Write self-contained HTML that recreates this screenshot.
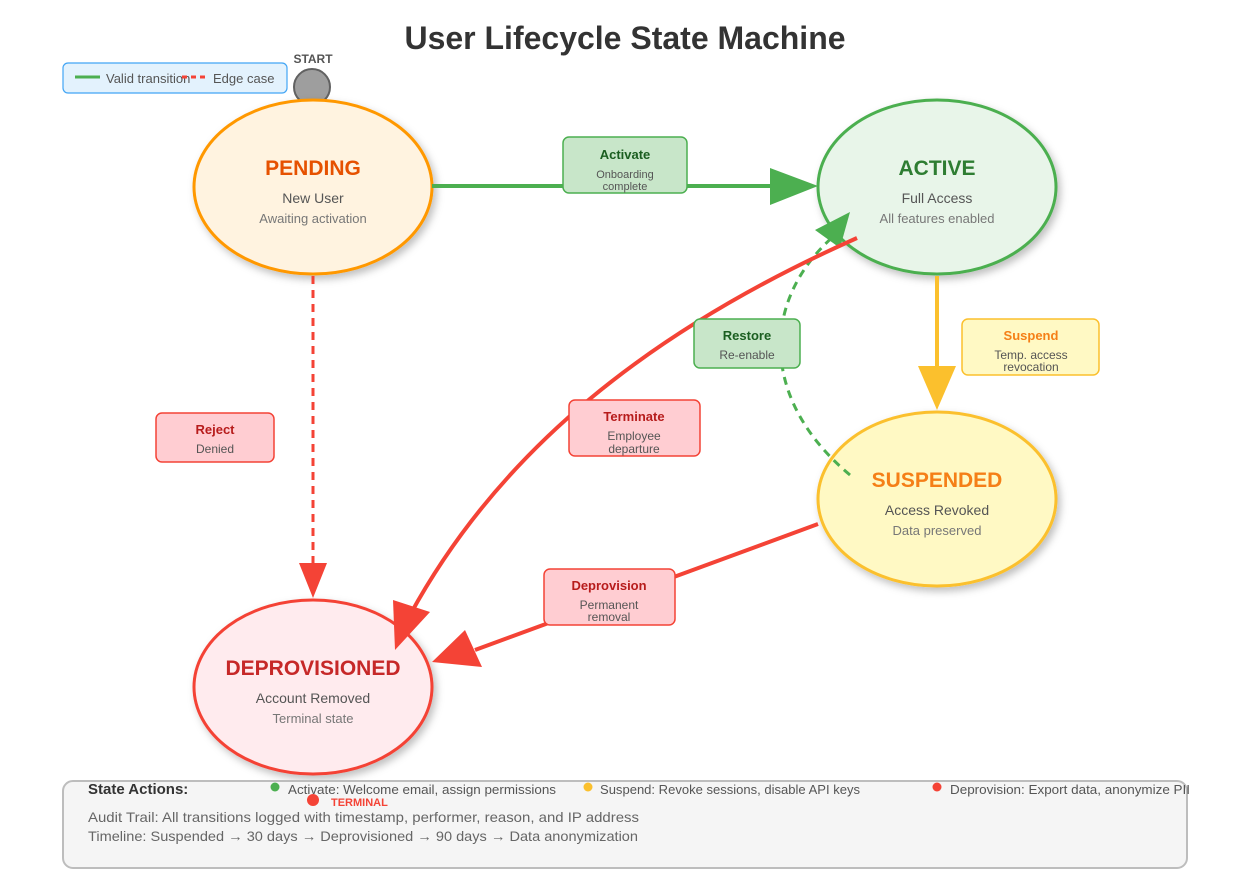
<!DOCTYPE html>
<html><head><meta charset="utf-8"><style>
body{margin:0;background:#fff;}
svg{display:block;font-family:"Liberation Sans",sans-serif;}
</style></head><body>
<svg width="1250" height="875" viewBox="0 0 1250 875" xmlns="http://www.w3.org/2000/svg">
<defs>
<filter id="sh" x="-20%" y="-20%" width="150%" height="150%"><feDropShadow dx="3" dy="4" stdDeviation="4" flood-color="#000" flood-opacity="0.25"/></filter>
</defs>
<text x="625" y="49" text-anchor="middle" font-size="32" font-weight="bold" fill="#333">User Lifecycle State Machine</text>
<!-- legend -->
<rect x="63" y="63" width="224" height="30" rx="5" fill="#e3f2fd" stroke="#42a5f5" stroke-width="1.2"/>
<line x1="75" y1="77" x2="100" y2="77" stroke="#4caf50" stroke-width="3"/>
<text x="106" y="83" font-size="13" fill="#555">Valid transition</text>
<line x1="182" y1="77" x2="207" y2="77" stroke="#f44336" stroke-width="3" stroke-dasharray="5,4"/>
<text x="213" y="83" font-size="13" fill="#555">Edge case</text>
<!-- start -->
<text x="313" y="63" text-anchor="middle" font-size="12" font-weight="bold" fill="#555">START</text>
<circle cx="312" cy="87" r="18" fill="#9e9e9e" stroke="#616161" stroke-width="2"/>
<polygon points="305,108 319,108 313,131" fill="#555"/>
<!-- ellipses -->
<ellipse cx="313" cy="187" rx="119" ry="87" fill="#fff3e0" stroke="#ff9800" stroke-width="3" filter="url(#sh)"/>
<ellipse cx="937" cy="187" rx="119" ry="87" fill="#e8f5e9" stroke="#4caf50" stroke-width="3" filter="url(#sh)"/>
<ellipse cx="937" cy="499" rx="119" ry="87" fill="#fff9c4" stroke="#fbc02d" stroke-width="3" filter="url(#sh)"/>
<ellipse cx="313" cy="687" rx="119" ry="87" fill="#ffebee" stroke="#f44336" stroke-width="3" filter="url(#sh)"/>
<!-- edges -->
<line x1="432" y1="186" x2="775" y2="186" stroke="#4caf50" stroke-width="4"/>
<polygon points="770,168 818,186 770,205" fill="#4caf50"/>
<line x1="313" y1="276" x2="313" y2="565" stroke="#f44336" stroke-width="3" stroke-dasharray="8,6"/>
<polygon points="299,563 327,563 313,598" fill="#f44336"/>
<line x1="937" y1="276" x2="937" y2="370" stroke="#fbc02d" stroke-width="4"/>
<polygon points="918,366 956,366 937,410" fill="#fbc02d"/>
<path d="M 850 475 C 760 400, 760 300, 835 235" fill="none" stroke="#4caf50" stroke-width="3" stroke-dasharray="8,6"/>
<polygon points="815,230 850,212 840,248" fill="#4caf50"/>
<path d="M 857 238 C 650 330, 500 450, 410 615" fill="none" stroke="#f44336" stroke-width="4"/>
<polygon points="393,600 430,612 395,650" fill="#f44336"/>
<line x1="818" y1="524" x2="475" y2="650" stroke="#f44336" stroke-width="4"/>
<polygon points="465,630 482,667 432,662" fill="#f44336"/>
<!-- state labels -->
<g text-anchor="middle">
<text x="313" y="175" font-size="21" font-weight="bold" fill="#e65100">PENDING</text>
<text x="313" y="203" font-size="14" fill="#555">New User</text>
<text x="313" y="223" font-size="13" fill="#777">Awaiting activation</text>
<text x="937" y="175" font-size="21" font-weight="bold" fill="#2e7d32">ACTIVE</text>
<text x="937" y="203" font-size="14" fill="#555">Full Access</text>
<text x="937" y="223" font-size="13" fill="#777">All features enabled</text>
<text x="937" y="487" font-size="21" font-weight="bold" fill="#f57f17">SUSPENDED</text>
<text x="937" y="515" font-size="14" fill="#555">Access Revoked</text>
<text x="937" y="535" font-size="13" fill="#777">Data preserved</text>
<text x="313" y="675" font-size="21" font-weight="bold" fill="#c62828">DEPROVISIONED</text>
<text x="313" y="703" font-size="14" fill="#555">Account Removed</text>
<text x="313" y="723" font-size="13" fill="#777">Terminal state</text>
</g>
<!-- edge labels -->
<g text-anchor="middle">
<rect x="563" y="137" width="124" height="56" rx="6" fill="#c8e6c9" stroke="#4caf50" stroke-width="1.5"/>
<text x="625" y="159" font-size="13" font-weight="bold" fill="#1b5e20">Activate</text>
<text x="625" y="178" font-size="11" fill="#555">Onboarding</text>
<text x="625" y="190" font-size="11" fill="#555">complete</text>
<rect x="156" y="413" width="118" height="49" rx="6" fill="#ffcdd2" stroke="#f44336" stroke-width="1.5"/>
<text x="215" y="434" font-size="13" font-weight="bold" fill="#b71c1c">Reject</text>
<text x="215" y="453" font-size="12" fill="#555">Denied</text>
<rect x="694" y="319" width="106" height="49" rx="6" fill="#c8e6c9" stroke="#4caf50" stroke-width="1.5"/>
<text x="747" y="340" font-size="13" font-weight="bold" fill="#1b5e20">Restore</text>
<text x="747" y="359" font-size="12" fill="#555">Re-enable</text>
<rect x="962" y="319" width="137" height="56" rx="6" fill="#fff9c4" stroke="#fbc02d" stroke-width="1.5"/>
<text x="1031" y="340" font-size="13" font-weight="bold" fill="#f57f17">Suspend</text>
<text x="1031" y="359" font-size="12" fill="#555">Temp. access</text>
<text x="1031" y="371" font-size="12" fill="#555">revocation</text>
<rect x="569" y="400" width="131" height="56" rx="6" fill="#ffcdd2" stroke="#f44336" stroke-width="1.5"/>
<text x="634" y="421" font-size="13" font-weight="bold" fill="#b71c1c">Terminate</text>
<text x="634" y="440" font-size="12" fill="#555">Employee</text>
<text x="634" y="453" font-size="12" fill="#555">departure</text>
<rect x="544" y="569" width="131" height="56" rx="6" fill="#ffcdd2" stroke="#f44336" stroke-width="1.5"/>
<text x="609" y="590" font-size="13" font-weight="bold" fill="#b71c1c">Deprovision</text>
<text x="609" y="609" font-size="12" fill="#555">Permanent</text>
<text x="609" y="621" font-size="12" fill="#555">removal</text>
</g>
<!-- footer -->
<rect x="63" y="781" width="1124" height="87" rx="10" fill="#f5f5f5" stroke="#bdbdbd" stroke-width="2"/>
<text x="88" y="794" font-size="15" font-weight="bold" fill="#333">State Actions:</text>
<circle cx="275" cy="787" r="4.5" fill="#4caf50"/>
<text x="288" y="794" font-size="13" fill="#555" textLength="268" lengthAdjust="spacingAndGlyphs">Activate: Welcome email, assign permissions</text>
<circle cx="588" cy="787" r="4.5" fill="#fbc02d"/>
<text x="600" y="794" font-size="13" fill="#555" textLength="260" lengthAdjust="spacingAndGlyphs">Suspend: Revoke sessions, disable API keys</text>
<circle cx="937" cy="787" r="4.5" fill="#f44336"/>
<text x="950" y="794" font-size="13" fill="#555" textLength="240" lengthAdjust="spacingAndGlyphs">Deprovision: Export data, anonymize PII</text>
<circle cx="313" cy="800" r="6" fill="#f44336"/>
<text x="331" y="806" font-size="11" font-weight="bold" fill="#f44336">TERMINAL</text>
<text x="88" y="822" font-size="14" fill="#666" textLength="551" lengthAdjust="spacingAndGlyphs">Audit Trail: All transitions logged with timestamp, performer, reason, and IP address</text>
<text x="88" y="841" font-size="14" fill="#666" textLength="550" lengthAdjust="spacingAndGlyphs">Timeline: Suspended → 30 days → Deprovisioned → 90 days → Data anonymization</text>
</svg>
</body></html>
